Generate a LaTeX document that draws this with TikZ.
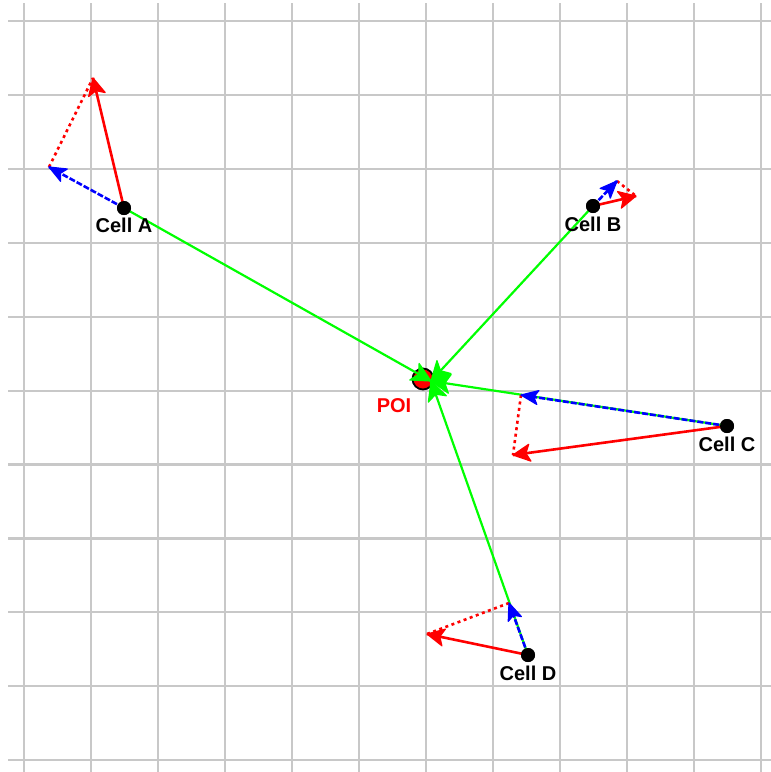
\documentclass[tikz,border=0pt]{standalone}
\usepackage{fontspec}
\setmainfont{Liberation Sans}
\usetikzlibrary{calc}
\definecolor{gridgray}{RGB}{200,200,200}
\definecolor{jgreen}{RGB}{0,255,0}
% #1 from, #2 to, #3 colour, #4 length, #5 half width, #6 notch distance
\newcommand{\mytip}[6]{%
  \filldraw[#3,line width=1.2pt,line join=round] (#2) -- ($(#2)!#4!(#1)!#5!90:(#2)$) -- ($(#2)!#6!(#1)$) -- ($(#2)!#4!(#1)!#5!-90:(#2)$) -- cycle;}
\begin{document}
\begin{tikzpicture}[x=1pt,y=-1pt,
  gridline/.style={draw=gridgray,line width=2.3pt},
  greenline/.style={draw=jgreen,line width=2.2pt},
  blueline/.style={draw=blue,line width=2.6pt,dash pattern=on 6pt off 2pt},
  redline/.style={draw=red,line width=2.6pt},
  reddotted/.style={draw=red,line width=2.6pt,dash pattern=on 3pt off 3.5pt},
  celldot/.style={circle,fill=black,inner sep=0pt,minimum size=14pt},
  poidot/.style={circle,fill=red,draw=black,line width=1.8pt,inner sep=0pt,minimum size=21pt},
  celllabel/.style={font=\fontsize{20}{20}\selectfont\bfseries,anchor=base,inner sep=0pt}]
\useasboundingbox (0,0) rectangle (771,772);
\fill[white] (0,0) rectangle (771,772);
% grid
\foreach \k in {0,...,11} {
  \draw[gridline] ({24.3+67*\k},3) -- ({24.3+67*\k},772);
}
\foreach \k in {0,...,10} {
  \draw[gridline] (8,{21.3+73.87*\k}) -- (771,{21.3+73.87*\k});
}
% cells and POI
\node[celldot] (A) at (124,208) {};
\node[celldot] (B) at (593,206) {};
\node[celldot] (C) at (727,426) {};
\node[celldot] (D) at (528,655) {};
\node[poidot] (POI) at (423,379) {};
\coordinate (Pt) at (431,381);
% tips
\coordinate (Ab) at (49,167);
\coordinate (Ar) at (93,78);
\coordinate (Bb) at (617,181);
\coordinate (Br) at (636,196);
\coordinate (Cb) at (521,395);
\coordinate (Cr) at (513,455);
\coordinate (Db) at (509,603);
\coordinate (Dr) at (427,634);
% green connectors to POI
\foreach \s in {A,B,C,D} {
  \draw[greenline] (\s.center) -- (Pt);
}
\foreach \s in {A,B,C,D} {
  \mytip{\s}{Pt}{jgreen}{19pt}{9.5pt}{14pt}
}
% red dotted
\draw[reddotted] (Ab) -- (Ar);
\draw[reddotted] (Bb) -- (Br);
\draw[reddotted] (Cb) -- (Cr);
\draw[reddotted] (Db) -- (Dr);
% blue and red arrows
\foreach \s in {A,B,C,D} {
  \draw[blueline] (\s.center) -- (\s b);
  \mytip{\s}{\s b}{blue}{17pt}{7pt}{13pt}
  \draw[redline] (\s.center) -- (\s r);
  \mytip{\s}{\s r}{red}{17pt}{8.5pt}{13pt}
}
% redraw dots on top
\node[celldot] at (A) {};
\node[celldot] at (B) {};
\node[celldot] at (C) {};
\node[celldot] at (D) {};
% labels
\node[celllabel] (LA) at (124,232) {Cell A};
\node[celllabel] (LB) at (593,231) {Cell B};
\node[celllabel] (LC) at (727,451) {Cell C};
\node[celllabel] (LD) at (528,680) {Cell D};
\node[celllabel,text=red] (LP) at (394,412.7) {POI};
\end{tikzpicture}
\end{document}
